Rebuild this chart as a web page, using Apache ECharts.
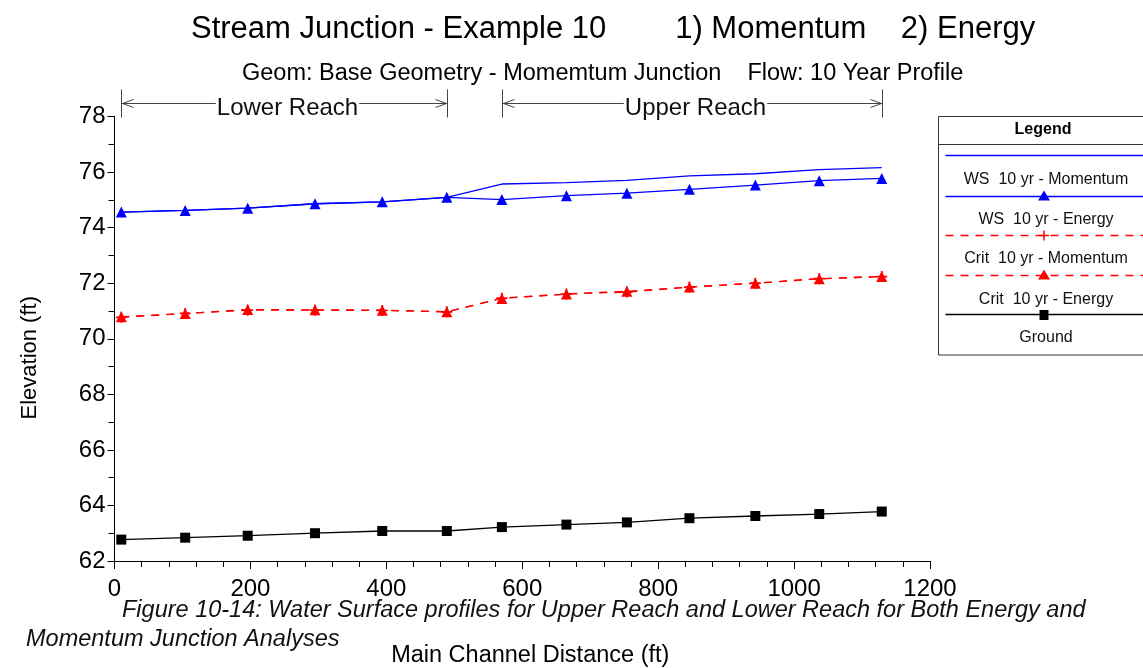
<!DOCTYPE html>
<html><head><meta charset="utf-8">
<script src="https://cdn.jsdelivr.net/npm/echarts@6/dist/echarts.min.js"></script>
<style>html,body{margin:0;padding:0;background:#fff}#c{width:1143px;height:668px}</style>
</head><body><div id="c"></div>
<script>
// ---- data ----
const distance     = [10, 104, 196, 295, 394, 489, 570, 665, 754, 846, 943, 1037, 1129];
const wsMomentum   = [74.56, 74.62, 74.70, 74.86, 74.93, 75.09, 75.57, 75.62, 75.70, 75.86, 75.94, 76.09, 76.16];
const wsEnergy     = [74.56, 74.62, 74.70, 74.86, 74.93, 75.09, 75.01, 75.15, 75.24, 75.38, 75.53, 75.69, 75.77];
const critMomentum = [70.77, 70.91, 71.03, 71.03, 71.02, 70.97, 71.46, 71.61, 71.68, 71.86, 72.00, 72.16, 72.24];
const critEnergy   = [70.79, 70.91, 71.05, 71.04, 71.03, 70.97, 71.45, 71.61, 71.71, 71.86, 72.00, 72.16, 72.24];
const ground       = [62.77, 62.84, 62.91, 63.00, 63.08, 63.08, 63.22, 63.31, 63.39, 63.54, 63.62, 63.69, 63.78];
const seriesNames  = ['WS  10 yr - Momentum', 'WS  10 yr - Energy', 'Crit  10 yr - Momentum', 'Crit  10 yr - Energy', 'Ground'];
const reachNames   = ['Lower Reach', 'Upper Reach'];
const reachStart   = [10, 570];
const reachEnd     = [489, 1129];
const xMin = 0, xMax = 1200, xStep = 200;
const yMin = 62, yMax = 78, yStep = 2;
const titleText    = 'Stream Junction - Example 10        1) Momentum    2) Energy';
const subtitleText = 'Geom: Base Geometry - Momemtum Junction    Flow: 10 Year Profile';
const captionLine1 = 'Figure 10-14: Water Surface profiles for Upper Reach and Lower Reach for Both Energy and';
const captionLine2 = 'Momentum Junction Analyses';
const xName = 'Main Channel Distance (ft)';
const yName = 'Elevation (ft)';

// ---- styles ----
const FONT = '"Liberation Sans", Arial, sans-serif';
const PLUS = 'path://M4.2,0 H5.8 V4.2 H10 V5.8 H5.8 V10 H4.2 V5.8 H0 V4.2 H4.2 Z';
const styles = [
  { color: '#0000ff', type: 'solid',  symbol: 'none',     size: 0 },
  { color: '#0000ff', type: 'solid',  symbol: 'triangle', size: 11 },
  { color: '#ff0000', type: [8, 7],   symbol: PLUS,       size: 11 },
  { color: '#ff0000', type: [8, 7],   symbol: 'triangle', size: 11 },
  { color: '#000000', type: 'solid',  symbol: 'rect',     size: 10 }
];
const values = [wsMomentum, wsEnergy, critMomentum, critEnergy, ground];
const drawOrder = [4, 2, 3, 0, 1];

const chart = echarts.init(document.getElementById('c'), null, { renderer: 'canvas' });

const series = drawOrder.map(i => ({
  name: seriesNames[i],
  type: 'line',
  data: distance.map((d, k) => [d, values[i][k]]),
  symbol: styles[i].symbol,
  symbolSize: styles[i].size,
  showSymbol: styles[i].symbol !== 'none',
  lineStyle: { color: styles[i].color, width: 1.3, type: styles[i].type },
  itemStyle: { color: styles[i].color },
  z: 2 + drawOrder.indexOf(i),
  silent: true
}));

const axisCommon = {
  axisLine: { show: true, lineStyle: { color: '#000', width: 1 } },
  splitLine: { show: false },
  axisLabel: { color: '#000', fontSize: 24, fontFamily: FONT, formatter: v => String(v) },
  nameTextStyle: { color: '#000', fontSize: 22, fontFamily: FONT }
};

const option = {
  animation: false,
  backgroundColor: '#fff',
  title: [
    { text: titleText, left: 186, top: 9, textStyle: { fontSize: 31, fontWeight: 'normal', color: '#000', fontFamily: FONT } },
    { text: subtitleText, left: 237, top: 57, textStyle: { fontSize: 23.5, fontWeight: 'normal', color: '#000', fontFamily: FONT } },
    { text: captionLine1, left: 117, top: 594, textStyle: { fontSize: 23.5, fontStyle: 'italic', fontWeight: 'normal', color: '#111', fontFamily: FONT } },
    { text: captionLine2, left: 21, top: 623, textStyle: { fontSize: 23.5, fontStyle: 'italic', fontWeight: 'normal', color: '#111', fontFamily: FONT } }
  ],
  grid: { left: 114.5, right: 213, top: 116.5, bottom: 107, containLabel: false, outerBoundsMode: 'none' },
  xAxis: Object.assign({}, axisCommon, {
    type: 'value', min: xMin, max: xMax, interval: xStep,
    name: xName, nameLocation: 'middle', nameGap: 83,
    nameTextStyle: Object.assign({}, axisCommon.nameTextStyle, { fontSize: 23.5, padding: [0, 0, 0, 16] }),
    axisTick: { show: true, length: 8, inside: false, lineStyle: { color: '#000' } },
    minorTick: { show: true, splitNumber: 5, length: 6, lineStyle: { color: '#000' } },
    axisLabel: Object.assign({}, axisCommon.axisLabel, { margin: 16 })
  }),
  yAxis: Object.assign({}, axisCommon, {
    type: 'value', min: yMin, max: yMax, interval: yStep,
    name: yName, nameLocation: 'middle', nameGap: 74, nameRotate: 90,
    nameTextStyle: Object.assign({}, axisCommon.nameTextStyle, { padding: [0, 38, 0, 0] }),
    axisTick: { show: true, length: 7, inside: false, lineStyle: { color: '#000' } },
    minorTick: { show: true, splitNumber: 2, length: 6, lineStyle: { color: '#000' } },
    axisLabel: Object.assign({}, axisCommon.axisLabel, { margin: 9 })
  }),
  series: series
};
chart.setOption(option);

// ---- annotations: reach arrows (positioned from data) ----
const graphics = [];
for (let i = 0; i < reachNames.length; i++) {
  const p0 = chart.convertToPixel({ gridIndex: 0 }, [reachStart[i], yMax]);
  const p1 = chart.convertToPixel({ gridIndex: 0 }, [reachEnd[i], yMax]);
  const x0 = Math.round(p0[0]) + 0.5, x1 = Math.round(p1[0]) + 0.5;
  const yl = Math.round(p0[1] - 14) + 0.5;
  const ls = { stroke: '#444', lineWidth: 1, fill: null };
  graphics.push({ type: 'line', shape: { x1: x0, y1: yl - 14, x2: x0, y2: yl + 14 }, style: ls });
  graphics.push({ type: 'line', shape: { x1: x1, y1: yl - 14, x2: x1, y2: yl + 14 }, style: ls });
  graphics.push({ type: 'line', shape: { x1: x0, y1: yl, x2: x1, y2: yl }, style: ls });
  graphics.push({ type: 'polyline', shape: { points: [[x0 + 12, yl - 4], [x0 + 1, yl], [x0 + 12, yl + 4]] }, style: ls });
  graphics.push({ type: 'polyline', shape: { points: [[x1 - 12, yl - 4], [x1 - 1, yl], [x1 - 12, yl + 4]] }, style: ls });
  graphics.push({ type: 'text', x: (x0 + x1) / 2 + 3, y: yl + 5, z: 10,
    style: { text: reachNames[i], font: '24px ' + FONT, fill: '#111', align: 'center', verticalAlign: 'middle',
             backgroundColor: '#fff', padding: [0, 1] } });
}

// ---- legend box (HEC-RAS style: line sample above each label) ----
const lgLeft = 938.5, lgTop = 116.5, lgW = 230, lgH = 238.5, lgCx = 1046;
graphics.push({ type: 'rect', shape: { x: lgLeft, y: lgTop, width: lgW, height: lgH }, style: { fill: '#fff', stroke: '#333', lineWidth: 1 }, z: 20 });
graphics.push({ type: 'text', x: lgCx - 3, y: 130, z: 21, style: { text: 'Legend', font: 'bold 16px ' + FONT, fill: '#000', align: 'center', verticalAlign: 'middle' } });
graphics.push({ type: 'line', shape: { x1: lgLeft, y1: 144.5, x2: lgLeft + lgW, y2: 144.5 }, style: { stroke: '#333', lineWidth: 1 }, z: 21 });
const lineYs = [155.5, 196.5, 235.5, 275.5, 314.5];
const textYs = [180, 219.5, 258.5, 300, 338];
for (let i = 0; i < seriesNames.length; i++) {
  const st = styles[i];
  graphics.push({ type: 'line', z: 21, shape: { x1: lgLeft + 7, y1: lineYs[i], x2: lgLeft + lgW, y2: lineYs[i] },
    style: { stroke: st.color, lineWidth: 1.3, lineDash: Array.isArray(st.type) ? st.type : null } });
  if (st.symbol === 'triangle') {
    graphics.push({ type: 'polygon', z: 22, shape: { points: [[1044, lineYs[i] - 6], [1050, lineYs[i] + 4], [1038, lineYs[i] + 4]] }, style: { fill: st.color } });
  } else if (st.symbol === 'rect') {
    graphics.push({ type: 'rect', z: 22, shape: { x: 1039.5, y: lineYs[i] - 4.5, width: 9, height: 10 }, style: { fill: st.color } });
  } else if (st.symbol === PLUS) {
    graphics.push({ type: 'line', z: 22, shape: { x1: 1044, y1: lineYs[i] - 5, x2: 1044, y2: lineYs[i] + 5 }, style: { stroke: st.color, lineWidth: 1.5 } });
    graphics.push({ type: 'line', z: 22, shape: { x1: 1039, y1: lineYs[i], x2: 1049, y2: lineYs[i] }, style: { stroke: st.color, lineWidth: 1.5 } });
  }
  graphics.push({ type: 'text', x: lgCx, y: textYs[i], z: 21, style: { text: seriesNames[i], font: '16px ' + FONT, fill: '#111', align: 'center', verticalAlign: 'middle' } });
}
chart.setOption({ graphic: graphics });
</script>
</body></html>
